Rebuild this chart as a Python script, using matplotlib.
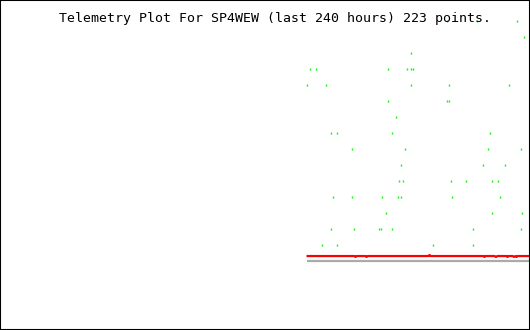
import numpy as np
import matplotlib
matplotlib.use("Agg")
import matplotlib.pyplot as plt

# telemetry channels, x in hours relative to now (last 240 h)
title = "Telemetry Plot For SP4WEW (last 240 hours) 223 points."

# green channel: scattered samples on discrete levels
green_hours = [
    -37.4, -24.2, -5.7,
    -2.5,
    -53.7,
    -99.4, -96.7, -64.1, -55.5, -54.1, -53.2,
    -100.8, -92.2, -54.1, -36.9, -9.3,
    -64.5, -37.8, -36.5,
    -60.9,
    -90.3, -87.2, -62.3, -17.9,
    -80.8, -56.8, -18.8, -4.3,
    -58.6, -21.1, -11.1,
    -59.1, -57.7, -35.6, -28.8, -17.4, -14.3,
    -89.4, -80.4, -66.8, -60.0, -58.2, -35.1, -13.4,
    -65.0, -17.0, -3.4,
    -89.9, -79.9, -68.6, -67.3, -62.7, -26.0, -3.9,
    -94.4, -87.6, -43.7, -25.6,
]
green_levels = [
    15, 15, 15,
    14,
    13,
    12, 12, 12, 12, 12, 12,
    11, 11, 11, 11, 11,
    10, 10, 10,
    9,
    8, 8, 8, 8,
    7, 7, 7, 7,
    6, 6, 6,
    5, 5, 5, 5, 5, 5,
    4, 4, 4, 4, 4, 4, 4,
    3, 3, 3,
    2, 2, 2, 2, 2, 2, 2,
    1, 1, 1, 1,
]

# red channel: nearly flat with a few glitches
red_hours = [-101.2, -79.5, -79.0, -78.5, -74.5, -74.0, -73.5, -46.0, -45.5, -45.0,
             -21.0, -20.6, -20.2, -16.0, -15.4, -14.8, -10.6, -10.2, -9.8,
             -7.8, -7.2, -6.6, -6.1, -5.6, 0.0]
red_values = [0.31, 0.31, 0.25, 0.31, 0.31, 0.25, 0.31, 0.31, 0.375, 0.31,
              0.31, 0.25, 0.31, 0.31, 0.25, 0.31, 0.31, 0.25, 0.31,
              0.31, 0.25, 0.31, 0.25, 0.31, 0.31]

# grey channel: constant
grey_hours = [-101.2, 0.0]
grey_values = [0.0, 0.0]

fig = plt.figure(figsize=(5.3, 3.3), dpi=100)
fig.patch.set_facecolor("white")
ax = fig.add_axes([0, 0, 1, 1])
ax.set_xlim(-240, 0)
ax.set_ylim(-4.3125, 16.3125)

ax.plot(grey_hours, grey_values, color="#aaaaaa", lw=1.6, solid_capstyle="butt")
ax.plot(red_hours, red_values, color="#ff0000", lw=1.6, solid_capstyle="butt")
ax.plot(green_hours, green_levels, ls="none", marker="|", ms=1.6, mew=1.0,
        color="#00ff00", antialiased=False)

ax.set_xticks([])
ax.set_yticks([])
for s in ax.spines.values():
    s.set_linewidth(1.5)
    s.set_color("black")

fig.text(59 / 530, 1 - 22 / 330, title, family="DejaVu Sans Mono", fontsize=9.57,
         va="baseline", ha="left", color="black")

plt.savefig("out.png", dpi=100)
